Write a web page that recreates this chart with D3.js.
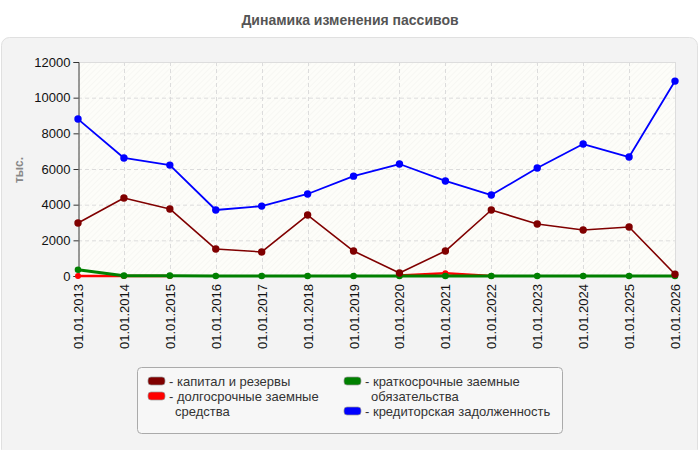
<!DOCTYPE html>
<html>
<head>
<meta charset="utf-8">
<script src="https://cdn.jsdelivr.net/npm/d3@7"></script>
<style>
body{margin:0;background:#fff;font-family:"Liberation Sans",Arial,sans-serif;}
</style>
</head>
<body>
<svg id="chart" width="700" height="450"></svg>
<script>
var years = ["01.01.2013","01.01.2014","01.01.2015","01.01.2016","01.01.2017","01.01.2018","01.01.2019",
             "01.01.2020","01.01.2021","01.01.2022","01.01.2023","01.01.2024","01.01.2025","01.01.2026"];
var capital = [2970,4370,3760,1510,1350,3420,1400,170,1400,3700,2920,2580,2750,100];
var longDebt = [0,0,0,null,null,null,null,30,150,0,null,null,null,null];
var shortDebt = [350,20,20,0,0,0,0,0,0,0,0,0,0,0];
var payables = [8800,6620,6220,3700,3920,4600,5600,6280,5330,4540,6060,7400,6670,10930];
var yTicks = [0,2000,4000,6000,8000,10000,12000];

var series = [
  {name:"долгосрочные заемные средства", values:longDebt, color:"#ff0000", w:2.5, r:3},
  {name:"краткосрочные заемные обязательства", values:shortDebt, color:"#008000", w:3, r:3.3},
  {name:"капитал и резервы", values:capital, color:"#800000", w:1.6, r:3.7},
  {name:"кредиторская задолженность", values:payables, color:"#0000ff", w:1.8, r:3.7}
];

var svg = d3.select("#chart");
var defs = svg.append("defs");
var pat = defs.append("pattern").attr("id","hatch").attr("width",4).attr("height",4)
  .attr("patternUnits","userSpaceOnUse").attr("patternTransform","rotate(45)");
pat.append("rect").attr("width",4).attr("height",4).attr("fill","#fdfdf9");
pat.append("line").attr("x1",0).attr("y1",0).attr("x2",0).attr("y2",4)
  .attr("stroke","#f1f1ee").attr("stroke-width",1);

svg.append("text").attr("x",350).attr("y",25).attr("text-anchor","middle")
  .attr("font-size",14).attr("font-weight","bold").attr("fill","#555")
  .text("Динамика изменения пассивов");

svg.append("rect").attr("x",1.5).attr("y",37.5).attr("width",696).attr("height",420)
  .attr("rx",8).attr("fill","#f3f3f3").attr("stroke","#e0e0e0");

var pLeft = 78, pRight = 675, pTop = 62, pBottom = 276;
var x = d3.scalePoint().domain(years).range([pLeft,pRight]);
var y = d3.scaleLinear().domain([0,12000]).range([pBottom,pTop]);

svg.append("rect").attr("x",pLeft).attr("y",pTop).attr("width",pRight-pLeft).attr("height",pBottom-pTop)
  .attr("fill","url(#hatch)");

// grid
var grid = svg.append("g").attr("stroke","#dcdcdc").attr("stroke-dasharray","4,3");
grid.selectAll(".gy").data(yTicks.slice(1)).enter().append("line")
  .attr("x1",pLeft).attr("x2",pRight).attr("y1",function(d){return y(d)+0.5;}).attr("y2",function(d){return y(d)+0.5;});
grid.selectAll(".gx").data(years.slice(1)).enter().append("line")
  .attr("y1",pTop).attr("y2",pBottom).attr("x1",function(d){return Math.round(x(d))+0.5;}).attr("x2",function(d){return Math.round(x(d))+0.5;});
svg.append("line").attr("x1",pLeft).attr("x2",pRight+0.5).attr("y1",pTop+0.5).attr("y2",pTop+0.5).attr("stroke","#ddd");
svg.append("line").attr("x1",pRight+0.5).attr("x2",pRight+0.5).attr("y1",pTop).attr("y2",pBottom).attr("stroke","#ddd");

// y axis
var yAxis = svg.append("g").attr("transform","translate(" + (pLeft+0.5) + ",0)")
  .call(d3.axisLeft(y).tickValues(yTicks).tickSize(5).tickPadding(3).tickFormat(d3.format("d")));
yAxis.select(".domain").attr("stroke","#333");
yAxis.selectAll("line").attr("stroke","#333");
yAxis.selectAll("text").attr("font-size",13).attr("fill","#111").attr("font-family","Liberation Sans, Arial, sans-serif");

svg.append("text").attr("transform","translate(23,170) rotate(-90)").attr("text-anchor","middle")
  .attr("font-size",12).attr("font-weight","bold").attr("fill","#888").text("тыс.");

// x labels
svg.selectAll(".xl").data(years).enter().append("text")
  .attr("transform",function(d){return "translate(" + (x(d)+5) + ",284) rotate(-90)";})
  .attr("text-anchor","end").attr("font-size",13).attr("fill","#111").text(function(d){return d;});

// lines
var line = d3.line().defined(function(d){return d != null;})
  .x(function(d,i){return x(years[i]);}).y(function(d){return y(d);});
series.forEach(function(s){
  svg.append("path").datum(s.values).attr("d",line).attr("fill","none")
    .attr("stroke",s.color).attr("stroke-width",s.w).attr("stroke-linejoin","round");
  svg.selectAll(null).data(s.values.map(function(v,i){return {v:v,i:i};}).filter(function(d){return d.v != null;}))
    .enter().append("circle").attr("cx",function(d){return x(years[d.i]);}).attr("cy",function(d){return y(d.v);})
    .attr("r",s.r).attr("fill",s.color);
});

// legend
svg.append("rect").attr("x",137.5).attr("y",367.5).attr("width",425).attr("height",66)
  .attr("rx",4).attr("fill","#f7f7f7").attr("stroke","#aaa");
var legendItems = [
  {lines:["капитал и резервы"], color:"#800000", x:148, y:377},
  {lines:["долгосрочные заемные","средства"], color:"#ff0000", x:148, y:392},
  {lines:["краткосрочные заемные","обязательства"], color:"#008000", x:344, y:377},
  {lines:["кредиторская задолженность"], color:"#0000ff", x:344, y:407}
];
var lg = svg.selectAll(".lg").data(legendItems).enter().append("g");
lg.append("rect").attr("x",function(d){return d.x;}).attr("y",function(d){return d.y;})
  .attr("width",17).attr("height",8).attr("rx",3).attr("fill",function(d){return d.color;})
  .attr("stroke","#999").attr("stroke-width",0.7);
lg.each(function(d){
  var t = d3.select(this).append("text").attr("font-size",13).attr("fill","#333");
  d.lines.forEach(function(l,k){
    t.append("tspan").attr("x",d.x + (k==0?21:27)).attr("y",d.y + 9 + k*15).text((k==0?"- ":"") + l);
  });
});
</script>
</body>
</html>
